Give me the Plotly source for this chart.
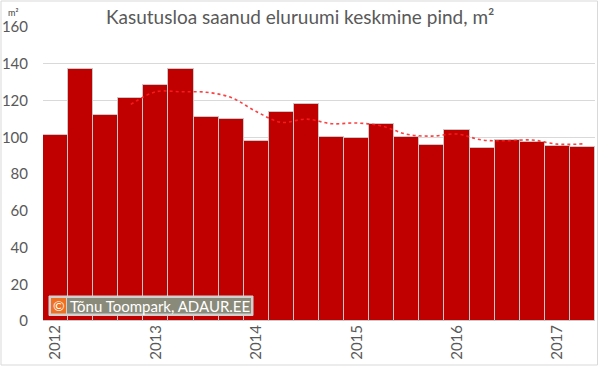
import plotly.graph_objects as go
import pandas as pd

quarters = [f"{y} Q{q}" for y in range(2012, 2018) for q in range(1, 5)][:22]
values = [101, 137, 112, 121.5, 128.5, 137, 111, 110, 98, 113.5, 118, 100,
          99.5, 107, 100, 96, 104, 94, 98.5, 97.5, 95, 94.5]
tick_vals = ["2012 Q1", "2013 Q1", "2014 Q1", "2015 Q1", "2016 Q1", "2017 Q1"]
tick_text = ["2012", "2013", "2014", "2015", "2016", "2017"]
y_ticks = [0, 20, 40, 60, 80, 100, 120, 140, 160]

ma = pd.Series(values).rolling(4).mean()
ma_x = [q for q, v in zip(quarters, ma) if pd.notna(v)]
ma_y = [v for v in ma if pd.notna(v)]

W, H = 600, 366
L, R, T, B = 43, 5, 27, 45
pw, ph = W - L - R, H - T - B
def px(x): return (x - L) / pw
def py(y): return (H - B - y) / ph

fig = go.Figure()
fig.add_trace(go.Bar(x=quarters, y=values, marker_color="#C00000",
                     marker_line_color="#C9C9C9", marker_line_width=1,
                     width=1, showlegend=False))
fig.add_trace(go.Scatter(x=ma_x, y=ma_y, mode="lines",
                         line=dict(color="rgba(255,30,30,0.85)", width=1.6, dash="dot", shape="spline"),
                         showlegend=False))

font = "Lato, 'Open Sans', sans-serif"
fig.update_layout(
    width=W, height=H,
    margin=dict(l=L, r=R, t=T, b=B, autoexpand=False),
    paper_bgcolor="white", plot_bgcolor="white",
    bargap=0,
    font=dict(family=font, color="#595959", size=14),
    xaxis=dict(type="category", categoryorder="array", categoryarray=quarters,
               tickmode="array", tickvals=tick_vals, ticktext=tick_text,
               tickangle=-90, showgrid=False, zeroline=False, showline=False,
               ticks="", automargin=False, tickfont=dict(size=15, color="#595959")),
    yaxis=dict(range=[0, 160], tickvals=y_ticks, showgrid=True, gridcolor="#D9D9D9",
               gridwidth=1, zeroline=False, showline=False, ticks="", automargin=False,
               ticklabelstandoff=14, tickfont=dict(size=15, color="#595959")),
    shapes=[
        dict(type="rect", xref="paper", yref="paper", x0=px(1), x1=px(597.5), y0=py(365), y1=py(1),
             line=dict(color="#D9D9D9", width=1), fillcolor="rgba(0,0,0,0)", layer="below"),
        dict(type="rect", xref="paper", yref="paper", x0=px(49), x1=px(253), y0=py(315.5), y1=py(296),
             line=dict(color="#D0D0D0", width=1), fillcolor="#D0D0D0"),
        dict(type="rect", xref="paper", yref="paper", x0=px(51), x1=px(66), y0=py(313.5), y1=py(298),
             line=dict(width=0), fillcolor="#F07022"),
        dict(type="rect", xref="paper", yref="paper", x0=px(67), x1=px(251), y0=py(313.5), y1=py(298),
             line=dict(width=0), fillcolor="#8A8A7A"),
    ],
    annotations=[
        dict(text="Kasutusloa saanud eluruumi keskmine pind, m²", xref="paper", yref="paper",
             x=px(300), y=py(16), xanchor="center", yanchor="middle", showarrow=False,
             font=dict(size=19, color="#595959", family=font), bgcolor="white", borderpad=2),
        dict(text="m²", xref="paper", yref="paper", x=px(13), y=py(13), xanchor="center",
             yanchor="middle", showarrow=False, font=dict(size=9, color="#404040", family=font)),
        dict(text="©", xref="paper", yref="paper", x=px(58.5), y=py(305.5), xanchor="center",
             yanchor="middle", showarrow=False, font=dict(size=14, color="white", family=font)),
        dict(text="Tõnu Toompark, ADAUR.EE", xref="paper", yref="paper", x=px(160), y=py(305.5),
             xanchor="center", yanchor="middle", showarrow=False,
             font=dict(size=15, color="white", family=font)),
    ],
)

fig.write_html("out.html", config={"displayModeBar": False},
               post_script="document.body.style.margin='0';")
